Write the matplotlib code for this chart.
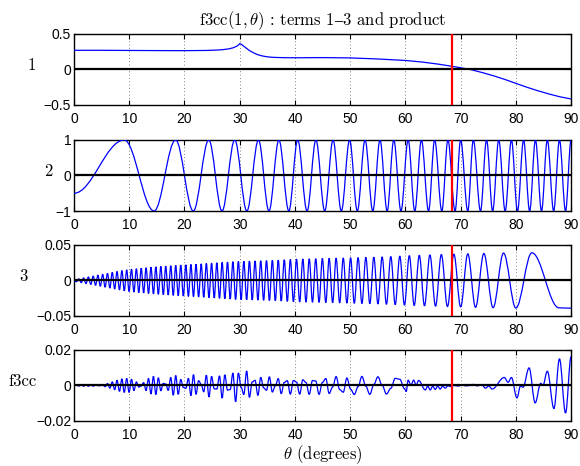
"""f3cc(1, theta): the three factor terms and their product, one panel each."""

import matplotlib

matplotlib.use("Agg")
import matplotlib.pyplot as plt
from matplotlib.patches import PathPatch
from matplotlib.path import Path

# ---- data (degrees, values) ----
THETA_MARK = 68.4

theta1 = [0, 5, 10, 15, 20, 24, 26, 27, 28, 28.8, 29.4, 29.8, 30.0, 30.3, 30.7,
          31.2, 31.8, 32.5, 33.2, 34, 35, 36, 38, 40, 45, 50, 55, 60, 63, 66,
          68, 70, 72, 74, 76, 78, 80, 82, 84, 86, 88, 90]
term1 = [0.27, 0.27, 0.268, 0.266, 0.265, 0.268, 0.274, 0.28, 0.29, 0.305,
         0.325, 0.345, 0.365, 0.355, 0.33, 0.30, 0.265, 0.235, 0.21, 0.192,
         0.178, 0.171, 0.166, 0.165, 0.167, 0.163, 0.148, 0.127, 0.105, 0.075,
         0.05, 0.025, -0.005, -0.045, -0.09, -0.14, -0.195, -0.25, -0.30,
         -0.345, -0.385, -0.415]

# term 2: turning points (peaks +1 / troughs -1)
theta2 = [0.0, 9.1, 14.5, 18.4, 21.6, 24.4, 26.8, 29.1, 31.3, 33.4, 35.3, 37.1,
          38.9, 40.5, 42.2, 43.8, 45.4, 46.9, 48.4, 49.9, 51.3, 52.7, 54.1,
          55.4, 56.7, 57.9, 59.2, 60.5, 61.7, 62.9, 64.2, 65.3, 66.6, 67.7,
          69.0, 70.0, 71.3, 72.3, 73.6, 74.7, 75.8, 76.9, 78.07, 79.2, 80.3,
          81.4, 82.5, 83.55, 84.65, 85.7, 86.85, 87.9, 89.0, 90.0]
term2 = [-0.5] + [1.0, -1.0] * 26 + [1.0]

# term 3: turning points
theta3 = [0.0, 0.45, 0.88, 1.31, 1.74, 2.17, 2.60, 3.04, 3.47, 3.90, 4.33, 4.76,
          5.19, 5.63, 6.06, 6.49, 6.93, 7.36, 7.79, 8.23, 8.67, 9.10, 9.54,
          9.97, 10.41, 10.85, 11.29, 11.73, 12.17, 12.61, 13.05, 13.49, 13.94,
          14.38, 14.82, 15.27, 15.72, 16.17, 16.61, 17.06, 17.52, 17.97, 18.42,
          18.87, 19.33, 19.79, 20.25, 20.71, 21.17, 21.63, 22.09, 22.56, 23.03,
          23.49, 23.96, 24.44, 24.91, 25.39, 25.86, 26.34, 26.82, 27.31, 27.79,
          28.28, 28.77, 29.26, 29.76, 30.26, 30.75, 31.26, 31.76, 32.27, 32.78,
          33.30, 33.81, 34.33, 34.85, 35.38, 35.91, 36.45, 36.98, 37.52, 38.07,
          38.62, 39.17, 39.73, 40.29, 40.86, 41.43, 42.00, 42.59, 43.18, 43.77,
          44.37, 44.97, 45.59, 46.20, 46.83, 47.46, 48.10, 48.75, 49.41, 50.08,
          50.75, 51.44, 52.13, 52.84, 53.56, 54.29, 55.03, 55.79, 56.57, 57.36,
          58.16, 58.99, 59.83, 60.71, 61.60, 62.52, 63.46, 64.44, 65.46, 66.51,
          67.62, 68.78, 70.01, 71.30, 72.70, 74.21, 75.88, 77.77, 80.00, 82.90,
          87.8, 90.0]
term3 = [0.0, -0.0017, 0.0023, -0.003, 0.0036, -0.0043, 0.0049, -0.0056, 0.0062,
         -0.0068, 0.0075, -0.0081, 0.0088, -0.0094, 0.0101, -0.0107, 0.0114,
         -0.012, 0.0127, -0.0133, 0.014, -0.0146, 0.015, -0.0155, 0.016, -0.0163,
         0.0166, -0.017, 0.0173, -0.0176, 0.018, -0.0183, 0.0186, -0.0189,
         0.0192, -0.0195, 0.0198, -0.02, 0.0203, -0.0205, 0.0208, -0.021, 0.0212,
         -0.0214, 0.0217, -0.0219, 0.0221, -0.0224, 0.0226, -0.0228, 0.023,
         -0.0233, 0.0235, -0.0237, 0.024, -0.0242, 0.0245, -0.0247, 0.025,
         -0.0252, 0.0255, -0.0257, 0.026, -0.0262, 0.0265, -0.0267, 0.027,
         -0.027, 0.0272, -0.0273, 0.0274, -0.0275, 0.0276, -0.0277, 0.0278,
         -0.0279, 0.028, -0.0282, 0.0284, -0.0286, 0.0288, -0.029, 0.0292,
         -0.0294, 0.0297, -0.0299, 0.030, -0.0302, 0.0303, -0.0304, 0.0305,
         -0.0306, 0.0307, -0.0308, 0.031, -0.0311, 0.0312, -0.0313, 0.0315,
         -0.0316, 0.0317, -0.0318, 0.032, -0.0321, 0.0322, -0.0324, 0.0325,
         -0.0327, 0.0328, -0.033, 0.0332, -0.0335, 0.0337, -0.034, 0.0343,
         -0.0346, 0.035, -0.0352, 0.0355, -0.0357, 0.036, -0.0362, 0.0365,
         -0.0367, 0.037, -0.0372, 0.0375, -0.0378, 0.038, -0.0383, 0.0386,
         -0.0388, 0.039, -0.0385, -0.039]

# product f3cc: turning points
theta4 = [0.0, 0.45, 0.88, 1.31, 1.74, 2.17, 2.60, 3.04, 3.47, 3.90, 4.33, 4.76,
          5.19, 5.63, 6.06, 6.49, 6.93, 7.36, 7.79, 8.23, 8.67, 9.10, 9.54,
          9.97, 10.41, 10.85, 11.29, 11.73, 12.17, 12.61, 13.05, 13.49, 13.94,
          14.38, 14.82, 15.27, 15.72, 16.17, 16.61, 17.06, 17.52, 17.97, 18.42,
          18.87, 19.33, 19.79, 20.25, 20.71, 21.17, 21.63, 22.09, 22.56, 23.03,
          23.49, 23.96, 24.44, 24.91, 25.39, 25.86, 26.34, 26.82, 27.31, 27.79,
          28.28, 28.77, 29.26, 29.76, 30.26, 30.75, 31.26, 31.76, 32.27, 32.78,
          33.30, 33.81, 34.33, 34.85, 35.38, 35.91, 36.45, 36.98, 37.52, 38.07,
          38.62, 39.17, 39.73, 40.29, 40.86, 41.43, 42.00, 42.59, 43.18, 43.77,
          44.37, 44.97, 45.59, 46.20, 46.83, 47.46, 48.10, 48.75, 49.41, 50.08,
          50.75, 51.44, 52.13, 52.84, 53.56, 54.29, 55.03, 55.79, 56.57, 57.36,
          58.16, 58.99, 59.83, 60.15, 60.5, 61.0, 61.5, 61.95, 62.4, 63.6,
          64.05, 64.5, 64.95, 65.4, 65.85, 66.3, 66.75, 67.2, 67.7, 68.2, 68.8,
          69.5, 70.3, 71.0, 71.7, 72.3, 73.0, 73.8, 74.5, 75.1, 75.7, 77.9,
          78.6, 79.2, 80.2, 80.85, 81.3, 82.4, 83.5, 84.5, 84.9, 85.7, 86.9,
          87.9, 89.0, 90.0]
product = [0.0, 0.0002, -0.0003, 0.00036, -0.0004, 0.00044, -0.00044, 0.0004,
           -0.00035, 0.00023, -0.0001, -0.00014, 0.0004, -0.0007, 0.0011,
           -0.0015, 0.002, -0.0024, 0.0029, -0.0033, 0.0037, -0.0039, 0.004,
           -0.0039, 0.0035, -0.0029, 0.002, -0.0009, -0.0003, 0.0016, -0.0029,
           0.004, -0.0048, 0.0052, -0.0051, 0.0043, -0.003, 0.0012, 0.0008,
           -0.0028, 0.0045, -0.0055, 0.0056, -0.005, 0.0034, -0.0011, -0.0016,
           0.004, -0.0057, 0.0061, -0.005, 0.0027, 0.0006, -0.0036, 0.0058,
           -0.0065, 0.0051, -0.0019, -0.002, 0.0054, -0.0071, 0.006, -0.0026,
           -0.0023, 0.007, -0.0092, 0.007, -0.001, -0.0051, 0.0082, -0.0067,
           0.002, 0.0029, -0.0056, 0.0046, -0.0013, -0.0027, 0.0049, -0.0037,
           -0.0002, 0.0039, -0.0046, 0.0017, 0.0027, -0.0049, 0.0028, 0.0019,
           -0.0049, 0.0032, 0.0017, -0.005, 0.0028, 0.0025, -0.005, 0.0017,
           0.0039, -0.0045, -0.0008, 0.005, -0.0023, -0.0038, 0.0042, -0.0021,
           -0.0051, -0.0006, 0.0051, -0.0004, -0.005, 0.0006, 0.0049, 0.0001,
           -0.0048, -0.0016, 0.004, 0.0035, -0.0018, -0.0034, 0.003, 0.0002,
           0.003, 0.0002, 0.0028, -0.0025, -0.0004, -0.0025, -0.0004, -0.0022,
           -0.0004, -0.002, -0.0004, -0.0015, -0.0002, -0.0006, 0.0, -0.0003,
           0.0002, -0.0002, 0.0, 0.0006, -0.0002, 0.0005, -0.0015, -0.0003,
           -0.002, 0.0045, 0.0018, 0.0045, -0.007, -0.0003, -0.001, 0.0099,
           -0.0098, 0.0012, 0.0, 0.008, -0.013, 0.015, -0.0155, 0.0162]

PANELS = [
    ("1", [-0.5, 0, 0.5], -0.0845),
    ("2", [-1, 0, 1], -0.0523),
    ("3", [-0.05, 0, 0.05], -0.1026),
    ("f3cc", [-0.02, 0, 0.02], -0.1026),
]
AXES_BOTTOMS = [0.7747, 0.5472, 0.3219, 0.0966]
BLUE = (0.0, 0.0, 1.0)

plt.rcParams["mathtext.fontset"] = "cm"
SANS = ["Liberation Sans", "DejaVu Sans"]
SERIF = ["cmr10", "DejaVu Serif"]


def _tick_text(value: float) -> str:
    return f"{value:g}".replace("-", "\u2212")


def _smooth_through(ax, xs, ys, **style):
    """Draw a curve through turning points with flat tangents at each point."""
    handle = 0.364
    verts = [(xs[0], ys[0])]
    codes = [Path.MOVETO]
    for x0, y0, x1, y1 in zip(xs[:-1], ys[:-1], xs[1:], ys[1:]):
        step = x1 - x0
        verts += [(x0 + handle * step, y0), (x1 - handle * step, y1), (x1, y1)]
        codes += [Path.CURVE4] * 3
    ax.add_patch(PathPatch(Path(verts, codes), fill=False, **style))


fig = plt.figure(figsize=(5.8, 4.66), dpi=100)
axes = [fig.add_axes([0.1276, bottom, 0.857, 0.1524]) for bottom in AXES_BOTTOMS]

axes[0].plot(theta1, term1, color=BLUE, lw=0.9, zorder=3)
_smooth_through(axes[1], theta2, term2, edgecolor=BLUE, lw=0.9, zorder=3)
_smooth_through(axes[2], theta3, term3, edgecolor=BLUE, lw=0.9, zorder=3)
_smooth_through(axes[3], theta4, product, edgecolor=BLUE, lw=0.9, zorder=3)

for ax, (label, yticks, label_x) in zip(axes, PANELS):
    ax.set_xlim(0, 90)
    ax.set_ylim(yticks[0], yticks[-1])
    ax.axhline(0, color="k", lw=1.6, zorder=4)
    ax.axvline(THETA_MARK, color="r", lw=1.6, zorder=5)
    ax.set_xticks(range(0, 91, 10), [str(v) for v in range(0, 91, 10)])
    ax.set_yticks(yticks, [_tick_text(v) for v in yticks])
    ax.grid(axis="x", color="0.35", linestyle=(0, (1, 3)), lw=0.6)
    ax.tick_params(direction="in", length=3.5, width=0.8, top=True, right=True,
                   labelsize=10, pad=2)
    ax.tick_params(axis="x", pad=5)
    for tick in ax.get_xticklabels() + ax.get_yticklabels():
        tick.set_fontfamily(SANS)
    for spine in ax.spines.values():
        spine.set_linewidth(1.0)
    ax.text(label_x, 0.56, label, transform=ax.transAxes, ha="center",
            va="center", fontsize=12, family=SERIF)

axes[0].set_title("f3cc$(1,\\theta)$ : terms 1$\u2013$3 and product",
                  fontsize=12, family=SERIF, pad=6)
axes[3].set_xlabel(r"$\theta$ (degrees)", fontsize=12, family=SERIF, labelpad=1)

fig.savefig("out.png", dpi=100)
